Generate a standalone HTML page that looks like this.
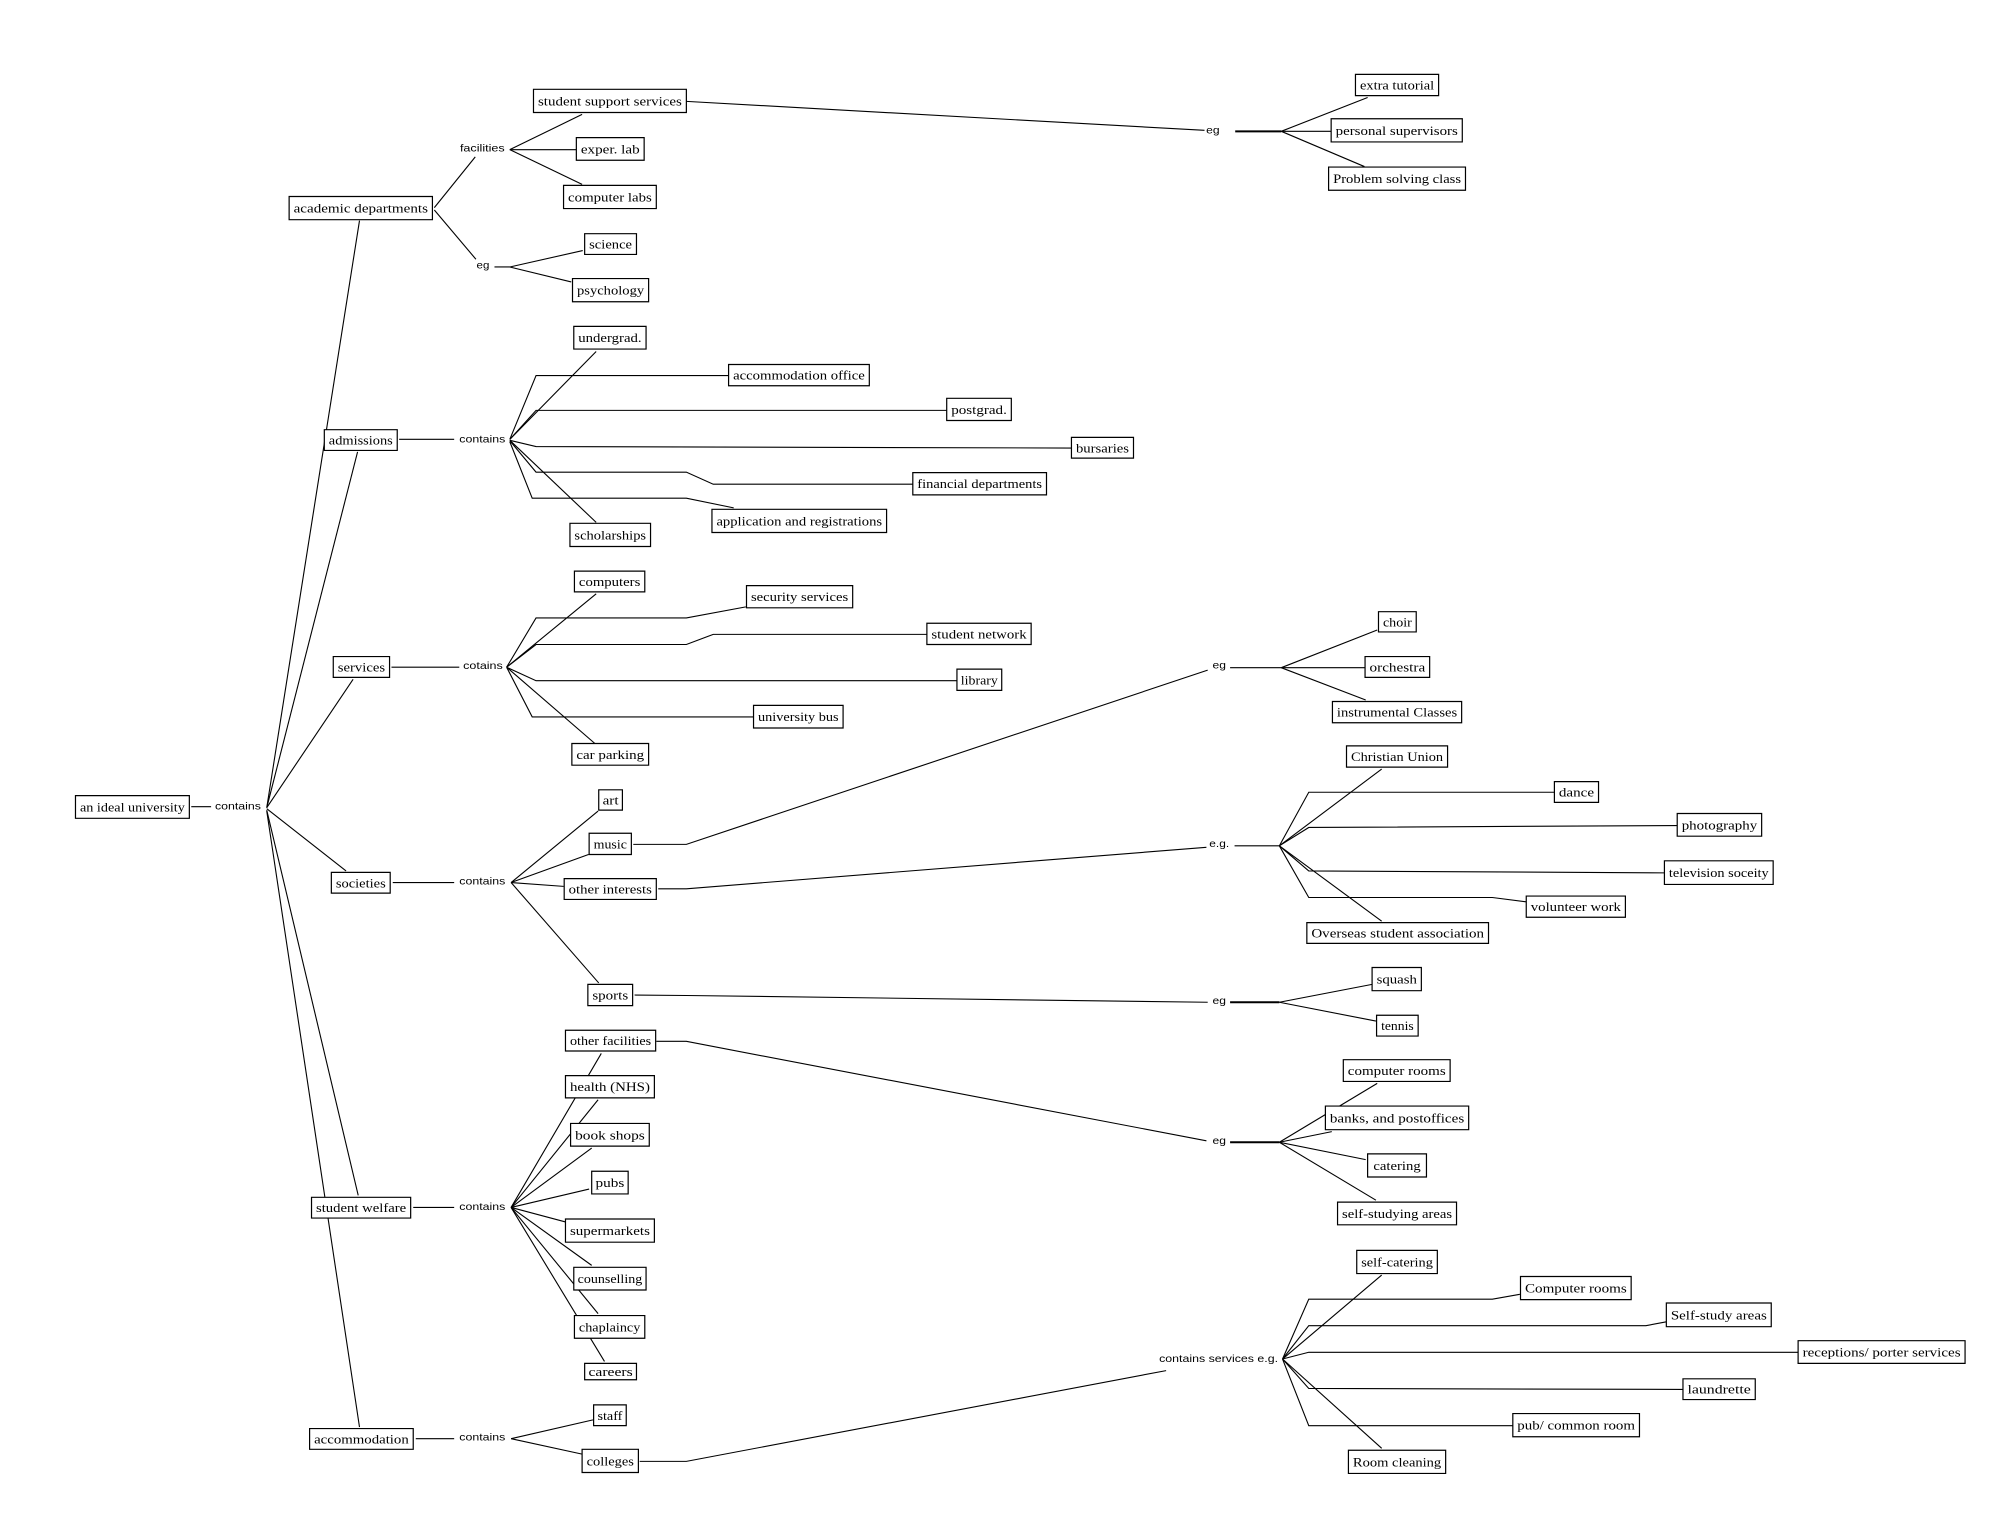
<!DOCTYPE html>
<html><head><meta charset="utf-8"><style>
html,body{margin:0;padding:0;background:#fff;}
svg{display:block;}
.b rect{fill:#fff;stroke:#000;stroke-width:1.2;vector-effect:non-scaling-stroke;}
.l polyline{fill:none;stroke:#000;stroke-width:1.1;vector-effect:non-scaling-stroke;}
text{font-family:"Liberation Serif",serif;font-size:20.5px;text-anchor:middle;dominant-baseline:central;fill:#000;}
text.s{font-family:"Liberation Sans",sans-serif;font-size:16.5px;}
</style></head><body>
<svg width="2006" height="1514" viewBox="0 0 2006 1514" xmlns="http://www.w3.org/2000/svg">
<rect width="2006" height="1514" fill="#fff"/>
<g transform="scale(0.63967,0.48278)">
<g class="l">
<polyline points="1073,210 1883,270"/>
<polyline points="797,310 910,237"/><polyline points="797,310 901,310"/><polyline points="797,310 910,382"/>
<polyline points="679,430 743,325"/><polyline points="679,435 744,537"/>
<polyline points="773,553 797,553 911,519"/><polyline points="797,553 893,584"/>
<polyline points="417,1673 562,457"/><polyline points="417,1673 559,936"/><polyline points="417,1673 552,1407"/>
<polyline points="417,1675 541,1804"/><polyline points="417,1678 560,2476"/><polyline points="417,1680 562,2956"/>
<polyline points="624,910 710,910"/>
<polyline points="797,910 932,728"/>
<polyline points="797,910 838,778 1139,778"/>
<polyline points="797,910 838,850 1480,850"/>
<polyline points="797,912 838,925 1675,928"/>
<polyline points="797,913 838,978 1073,978 1115,1003 1427,1003"/>
<polyline points="797,915 832,1032 1073,1032 1147,1052"/>
<polyline points="797,912 932,1082"/>
<polyline points="612,1382 718,1382"/>
<polyline points="792,1382 932,1230"/>
<polyline points="792,1382 838,1280 1073,1280 1166,1257"/>
<polyline points="792,1382 838,1335 1073,1335 1115,1314 1449,1314"/>
<polyline points="792,1382 838,1410 1496,1410"/>
<polyline points="792,1382 832,1485 1178,1485"/>
<polyline points="792,1382 930,1540"/>
<polyline points="1931,272 2003,272" style="stroke-width:2"/>
<polyline points="2003,272 2138,202"/><polyline points="2003,272 2081,272"/><polyline points="2003,272 2133,345"/>
<polyline points="1923,1383 2003,1383"/>
<polyline points="2003,1383 2153,1305"/><polyline points="2003,1383 2134,1383"/><polyline points="2003,1383 2135,1450"/>
<polyline points="299,1671 330,1671"/>
<polyline points="614,1828 710,1828"/>
<polyline points="799,1828 935,1680"/><polyline points="799,1828 920,1770"/><polyline points="799,1828 881,1836"/><polyline points="799,1828 936,2036"/>
<polyline points="990,1749 1073,1749 1888,1388"/>
<polyline points="1029,1841 1073,1841 1886,1755"/>
<polyline points="992,2061 1073,2062 1888,2076"/>
<polyline points="1026,2157 1073,2157 1886,2363"/>
<polyline points="646,2501 710,2501"/>
<polyline points="799,2501 940,2182"/><polyline points="799,2501 935,2278"/><polyline points="799,2501 925,2378"/><polyline points="799,2501 921,2463"/>
<polyline points="799,2501 884,2531"/><polyline points="799,2501 925,2621"/><polyline points="799,2501 935,2721"/><polyline points="799,2501 945,2820"/>
<polyline points="650,2980 710,2980"/>
<polyline points="799,2980 927,2941"/><polyline points="799,2980 910,3012"/>
<polyline points="1000,3027 1073,3027 1823,2839"/>
<polyline points="1930,1752 2000,1752"/>
<polyline points="2000,1752 2160,1593"/>
<polyline points="2000,1752 2046,1641 2430,1641"/>
<polyline points="2000,1752 2046,1714 2622,1710"/>
<polyline points="2000,1752 2046,1804 2602,1808"/>
<polyline points="2000,1752 2046,1859 2333,1859 2386,1868"/>
<polyline points="2000,1752 2160,1908"/>
<polyline points="1923,2076 2000,2076" style="stroke-width:2"/>
<polyline points="2000,2076 2145,2039"/><polyline points="2000,2076 2151,2115"/>
<polyline points="1923,2366 2000,2366" style="stroke-width:2"/>
<polyline points="2000,2366 2153,2244"/><polyline points="2000,2366 2082,2344"/><polyline points="2000,2366 2135,2402"/><polyline points="2000,2366 2151,2486"/>
<polyline points="2005,2815 2160,2641"/>
<polyline points="2005,2815 2046,2691 2333,2691 2376,2681"/>
<polyline points="2005,2815 2046,2746 2573,2746 2605,2738"/>
<polyline points="2005,2815 2046,2801 2811,2801"/>
<polyline points="2005,2815 2046,2876 2631,2878"/>
<polyline points="2005,2815 2046,2953 2365,2953"/>
<polyline points="2005,2815 2160,3000"/>
</g>
<g class="b">
<rect x="834" y="185" width="239" height="48"/>
<rect x="901" y="285" width="106" height="47"/>
<rect x="881" y="384" width="145" height="48"/>
<rect x="452" y="407" width="224" height="48"/>
<rect x="914" y="484" width="81" height="43"/>
<rect x="895" y="577" width="119" height="48"/>
<rect x="897" y="676" width="113" height="47"/>
<rect x="1139" y="755" width="220" height="44"/>
<rect x="1480" y="825" width="101" height="46"/>
<rect x="1675" y="906" width="97" height="43"/>
<rect x="1427" y="979" width="209" height="46"/>
<rect x="1113" y="1055" width="273" height="48"/>
<rect x="891" y="1084" width="126" height="48"/>
<rect x="507" y="890" width="114" height="43"/>
<rect x="898" y="1183" width="110" height="43"/>
<rect x="1167" y="1213" width="166" height="46"/>
<rect x="1449" y="1291" width="163" height="44"/>
<rect x="1496" y="1386" width="70" height="44"/>
<rect x="521" y="1360" width="88" height="43"/>
<rect x="1178" y="1461" width="140" height="47"/>
<rect x="894" y="1540" width="120" height="45"/>
<rect x="2119" y="154" width="130" height="44"/>
<rect x="2081" y="246" width="205" height="48"/>
<rect x="2077" y="346" width="214" height="48"/>
<rect x="2155" y="1267" width="59" height="42"/>
<rect x="2134" y="1360" width="101" height="43"/>
<rect x="2083" y="1453" width="202" height="44"/>
<rect x="2105" y="1545" width="158" height="44"/>
<rect x="118" y="1648" width="178" height="47"/>
<rect x="518" y="1807" width="92" height="43"/>
<rect x="936" y="1636" width="37" height="42"/>
<rect x="921" y="1726" width="66" height="44"/>
<rect x="882" y="1820" width="144" height="43"/>
<rect x="919" y="2039" width="70" height="44"/>
<rect x="884" y="2134" width="141" height="43"/>
<rect x="884" y="2228" width="139" height="46"/>
<rect x="892" y="2327" width="123" height="47"/>
<rect x="925" y="2426" width="57" height="47"/>
<rect x="884" y="2525" width="139" height="48"/>
<rect x="897" y="2625" width="113" height="47"/>
<rect x="898" y="2725" width="110" height="47"/>
<rect x="914" y="2824" width="81" height="34"/>
<rect x="487" y="2480" width="155" height="43"/>
<rect x="484" y="2959" width="162" height="43"/>
<rect x="928" y="2910" width="51" height="43"/>
<rect x="910" y="3002" width="88" height="48"/>
<rect x="2430" y="1619" width="69" height="43"/>
<rect x="2622" y="1685" width="132" height="47"/>
<rect x="2602" y="1783" width="170" height="49"/>
<rect x="2386" y="1856" width="155" height="44"/>
<rect x="2043" y="1911" width="284" height="43"/>
<rect x="2145" y="2004" width="77" height="48"/>
<rect x="2152" y="2103" width="65" height="43"/>
<rect x="2100" y="2195" width="167" height="45"/>
<rect x="2072" y="2291" width="224" height="49"/>
<rect x="2138" y="2390" width="92" height="48"/>
<rect x="2091" y="2490" width="186" height="47"/>
<rect x="2121" y="2590" width="126" height="48"/>
<rect x="2377" y="2644" width="173" height="48"/>
<rect x="2605" y="2699" width="164" height="49"/>
<rect x="2811" y="2777" width="261" height="47"/>
<rect x="2631" y="2856" width="113" height="43"/>
<rect x="2365" y="2928" width="198" height="48"/>
<rect x="2108" y="3004" width="152" height="48"/>
</g>
<g>
<text transform="translate(953.5 209) scale(1 1.325)" textLength="225" lengthAdjust="spacingAndGlyphs">student support services</text>
<text transform="translate(954 308.5) scale(1 1.325)" textLength="92" lengthAdjust="spacingAndGlyphs">exper. lab</text>
<text transform="translate(953.5 408) scale(1 1.325)" textLength="131" lengthAdjust="spacingAndGlyphs">computer labs</text>
<text transform="translate(564 431) scale(1 1.325)" textLength="210" lengthAdjust="spacingAndGlyphs">academic departments</text>
<text transform="translate(954.5 505.5) scale(1 1.325)" textLength="67" lengthAdjust="spacingAndGlyphs">science</text>
<text transform="translate(954.5 601) scale(1 1.325)" textLength="105" lengthAdjust="spacingAndGlyphs">psychology</text>
<text transform="translate(953.5 699.5) scale(1 1.325)" textLength="99" lengthAdjust="spacingAndGlyphs">undergrad.</text>
<text transform="translate(1249 777) scale(1 1.325)" textLength="206" lengthAdjust="spacingAndGlyphs">accommodation office</text>
<text transform="translate(1530.5 848) scale(1 1.325)" textLength="87" lengthAdjust="spacingAndGlyphs">postgrad.</text>
<text transform="translate(1723.5 927.5) scale(1 1.325)" textLength="83" lengthAdjust="spacingAndGlyphs">bursaries</text>
<text transform="translate(1531.5 1002) scale(1 1.325)" textLength="195" lengthAdjust="spacingAndGlyphs">financial departments</text>
<text transform="translate(1249.5 1079) scale(1 1.325)" textLength="259" lengthAdjust="spacingAndGlyphs">application and registrations</text>
<text transform="translate(954 1108) scale(1 1.325)" textLength="112" lengthAdjust="spacingAndGlyphs">scholarships</text>
<text transform="translate(564 911.5) scale(1 1.325)" textLength="100" lengthAdjust="spacingAndGlyphs">admissions</text>
<text transform="translate(953 1204.5) scale(1 1.325)" textLength="96" lengthAdjust="spacingAndGlyphs">computers</text>
<text transform="translate(1250 1236) scale(1 1.325)" textLength="152" lengthAdjust="spacingAndGlyphs">security services</text>
<text transform="translate(1530.5 1313) scale(1 1.325)" textLength="149" lengthAdjust="spacingAndGlyphs">student network</text>
<text transform="translate(1531 1408) scale(1 1.325)" textLength="58" lengthAdjust="spacingAndGlyphs">library</text>
<text transform="translate(565 1381.5) scale(1 1.325)" textLength="74" lengthAdjust="spacingAndGlyphs">services</text>
<text transform="translate(1248 1484.5) scale(1 1.325)" textLength="126" lengthAdjust="spacingAndGlyphs">university bus</text>
<text transform="translate(954 1562.5) scale(1 1.325)" textLength="106" lengthAdjust="spacingAndGlyphs">car parking</text>
<text transform="translate(2184 176) scale(1 1.325)" textLength="116" lengthAdjust="spacingAndGlyphs">extra tutorial</text>
<text transform="translate(2183.5 270) scale(1 1.325)" textLength="191" lengthAdjust="spacingAndGlyphs">personal supervisors</text>
<text transform="translate(2184 370) scale(1 1.325)" textLength="200" lengthAdjust="spacingAndGlyphs">Problem solving class</text>
<text transform="translate(2184.5 1288) scale(1 1.325)" textLength="45" lengthAdjust="spacingAndGlyphs">choir</text>
<text transform="translate(2184.5 1381.5) scale(1 1.325)" textLength="87" lengthAdjust="spacingAndGlyphs">orchestra</text>
<text transform="translate(2184 1475) scale(1 1.325)" textLength="188" lengthAdjust="spacingAndGlyphs">instrumental Classes</text>
<text transform="translate(2184 1567) scale(1 1.325)" textLength="144" lengthAdjust="spacingAndGlyphs">Christian Union</text>
<text transform="translate(207 1671.5) scale(1 1.325)" textLength="164" lengthAdjust="spacingAndGlyphs">an ideal university</text>
<text transform="translate(564 1828.5) scale(1 1.325)" textLength="78" lengthAdjust="spacingAndGlyphs">societies</text>
<text transform="translate(954.5 1657) scale(1 1.325)" textLength="25" lengthAdjust="spacingAndGlyphs">art</text>
<text transform="translate(954 1748) scale(1 1.325)" textLength="52" lengthAdjust="spacingAndGlyphs">music</text>
<text transform="translate(954 1841.5) scale(1 1.325)" textLength="130" lengthAdjust="spacingAndGlyphs">other interests</text>
<text transform="translate(954 2061) scale(1 1.325)" textLength="56" lengthAdjust="spacingAndGlyphs">sports</text>
<text transform="translate(954.5 2155.5) scale(1 1.325)" textLength="127" lengthAdjust="spacingAndGlyphs">other facilities</text>
<text transform="translate(953.5 2251) scale(1 1.325)" textLength="125" lengthAdjust="spacingAndGlyphs">health (NHS)</text>
<text transform="translate(953.5 2350.5) scale(1 1.325)" textLength="109" lengthAdjust="spacingAndGlyphs">book shops</text>
<text transform="translate(953.5 2449.5) scale(1 1.325)" textLength="45" lengthAdjust="spacingAndGlyphs">pubs</text>
<text transform="translate(953.5 2549) scale(1 1.325)" textLength="125" lengthAdjust="spacingAndGlyphs">supermarkets</text>
<text transform="translate(953.5 2648.5) scale(1 1.325)" textLength="101" lengthAdjust="spacingAndGlyphs">counselling</text>
<text transform="translate(953 2748.5) scale(1 1.325)" textLength="96" lengthAdjust="spacingAndGlyphs">chaplaincy</text>
<text transform="translate(954.5 2841) scale(1 1.325)" textLength="69" lengthAdjust="spacingAndGlyphs">careers</text>
<text transform="translate(564.5 2501.5) scale(1 1.325)" textLength="141" lengthAdjust="spacingAndGlyphs">student welfare</text>
<text transform="translate(565 2980.5) scale(1 1.325)" textLength="148" lengthAdjust="spacingAndGlyphs">accommodation</text>
<text transform="translate(953.5 2931.5) scale(1 1.325)" textLength="39" lengthAdjust="spacingAndGlyphs">staff</text>
<text transform="translate(954 3026) scale(1 1.325)" textLength="74" lengthAdjust="spacingAndGlyphs">colleges</text>
<text transform="translate(2464.5 1640.5) scale(1 1.325)" textLength="55" lengthAdjust="spacingAndGlyphs">dance</text>
<text transform="translate(2688 1708.5) scale(1 1.325)" textLength="118" lengthAdjust="spacingAndGlyphs">photography</text>
<text transform="translate(2687 1807.5) scale(1 1.325)" textLength="156" lengthAdjust="spacingAndGlyphs">television soceity</text>
<text transform="translate(2463.5 1878) scale(1 1.325)" textLength="141" lengthAdjust="spacingAndGlyphs">volunteer work</text>
<text transform="translate(2185 1932.5) scale(1 1.325)" textLength="270" lengthAdjust="spacingAndGlyphs">Overseas student association</text>
<text transform="translate(2183.5 2028) scale(1 1.325)" textLength="63" lengthAdjust="spacingAndGlyphs">squash</text>
<text transform="translate(2184.5 2124.5) scale(1 1.325)" textLength="51" lengthAdjust="spacingAndGlyphs">tennis</text>
<text transform="translate(2183.5 2217.5) scale(1 1.325)" textLength="153" lengthAdjust="spacingAndGlyphs">computer rooms</text>
<text transform="translate(2184 2315.5) scale(1 1.325)" textLength="210" lengthAdjust="spacingAndGlyphs">banks, and postoffices</text>
<text transform="translate(2184 2414) scale(1 1.325)" textLength="74" lengthAdjust="spacingAndGlyphs">catering</text>
<text transform="translate(2184 2513.5) scale(1 1.325)" textLength="172" lengthAdjust="spacingAndGlyphs">self-studying areas</text>
<text transform="translate(2184 2614) scale(1 1.325)" textLength="112" lengthAdjust="spacingAndGlyphs">self-catering</text>
<text transform="translate(2463.5 2668) scale(1 1.325)" textLength="159" lengthAdjust="spacingAndGlyphs">Computer rooms</text>
<text transform="translate(2687 2723.5) scale(1 1.325)" textLength="150" lengthAdjust="spacingAndGlyphs">Self-study areas</text>
<text transform="translate(2941.5 2800.5) scale(1 1.325)" textLength="247" lengthAdjust="spacingAndGlyphs">receptions/ porter services</text>
<text transform="translate(2687.5 2877.5) scale(1 1.325)" textLength="99" lengthAdjust="spacingAndGlyphs">laundrette</text>
<text transform="translate(2464 2952) scale(1 1.325)" textLength="184" lengthAdjust="spacingAndGlyphs">pub/ common room</text>
<text transform="translate(2184 3028) scale(1 1.325)" textLength="138" lengthAdjust="spacingAndGlyphs">Room cleaning</text>

<text class="s" transform="translate(754 308) scale(1 1.325)" textLength="70" lengthAdjust="spacingAndGlyphs">facilities</text>
<text class="s" transform="translate(755 550) scale(1 1.325)" textLength="20" lengthAdjust="spacingAndGlyphs">eg</text>
<text class="s" transform="translate(754 910) scale(1 1.325)" textLength="72" lengthAdjust="spacingAndGlyphs">contains</text>
<text class="s" transform="translate(755 1380) scale(1 1.325)" textLength="62" lengthAdjust="spacingAndGlyphs">cotains</text>
<text class="s" transform="translate(1896 270) scale(1 1.325)" textLength="21" lengthAdjust="spacingAndGlyphs">eg</text>
<text class="s" transform="translate(1906 1378) scale(1 1.325)" textLength="21" lengthAdjust="spacingAndGlyphs">eg</text>
<text class="s" transform="translate(372 1671) scale(1 1.325)" textLength="72" lengthAdjust="spacingAndGlyphs">contains</text>
<text class="s" transform="translate(754 1826) scale(1 1.325)" textLength="72" lengthAdjust="spacingAndGlyphs">contains</text>
<text class="s" transform="translate(754 2500) scale(1 1.325)" textLength="72" lengthAdjust="spacingAndGlyphs">contains</text>
<text class="s" transform="translate(754 2978) scale(1 1.325)" textLength="72" lengthAdjust="spacingAndGlyphs">contains</text>
<text class="s" transform="translate(1906 1748) scale(1 1.325)" textLength="31" lengthAdjust="spacingAndGlyphs">e.g.</text>
<text class="s" transform="translate(1906 2073) scale(1 1.325)" textLength="21" lengthAdjust="spacingAndGlyphs">eg</text>
<text class="s" transform="translate(1906 2363) scale(1 1.325)" textLength="21" lengthAdjust="spacingAndGlyphs">eg</text>
<text class="s" transform="translate(1905 2815) scale(1 1.325)" textLength="186" lengthAdjust="spacingAndGlyphs">contains services e.g.</text>
</g>
</g>
</svg>
</body></html>
